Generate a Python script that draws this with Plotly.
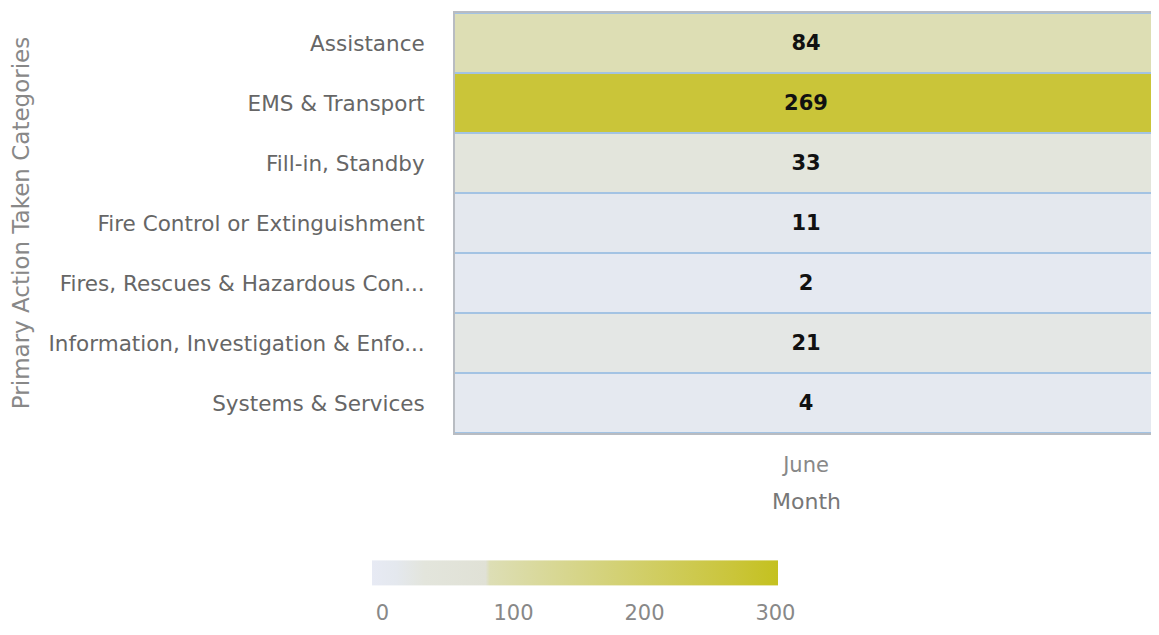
import plotly.graph_objects as go

# dados
categorias = [
    "Assistance",
    "EMS & Transport",
    "Fill-in, Standby",
    "Fire Control or Extinguishment",
    "Fires, Rescues & Hazardous Con...",
    "Information, Investigation & Enfo...",
    "Systems & Services",
]
meses = ["June"]
valores = [84, 269, 33, 11, 2, 21, 4]
ticks_cor = [0, 100, 200, 300]

# escala de cores (min -8, max 302)
escala = [
    [0.0, "#e7eaf4"],
    [0.06, "#e4e8ee"],
    [0.13, "#e3e5dc"],
    [0.28, "#e0e1d6"],
    [0.29, "#dddeb5"],
    [0.89, "#cac53a"],
    [1.0, "#c4c11f"],
]

fig = go.Figure(
    go.Heatmap(
        x=meses,
        y=categorias,
        z=[[v] for v in valores],
        zmin=-8,
        zmax=302,
        colorscale=escala,
        ygap=2,
        texttemplate="%{z}",
        textfont=dict(family="DejaVu Sans", size=21, color="#111111", weight="bold"),
        hoverinfo="skip",
        colorbar=dict(
            orientation="h",
            xref="paper",
            x=0.171,
            xanchor="center",
            y=-0.381,
            yanchor="middle",
            ypad=0,
            lenmode="pixels",
            len=426,
            thickness=25,
            outlinewidth=0,
            tickvals=ticks_cor,
            tickfont=dict(family="DejaVu Sans", size=21, color="#888888"),
            ticks="outside",
            ticklen=10,
            tickcolor="rgba(0,0,0,0)",
        ),
    )
)

# a pagina tem 8px de margem no body
fig.update_layout(
    width=1151,
    height=627,
    margin=dict(l=447, r=2, t=5, b=202),
    paper_bgcolor="white",
    plot_bgcolor="#a3c3e3",
    font=dict(family="DejaVu Sans", color="#666666"),
    xaxis=dict(
        showgrid=False,
        zeroline=False,
        showline=True,
        mirror=True,
        linecolor="#b8bcc2",
        linewidth=2,
        ticks="",
        ticklabelstandoff=12,
        tickfont=dict(size=21, color="#888888"),
    ),
    yaxis=dict(
        autorange="reversed",
        showgrid=False,
        zeroline=False,
        showline=True,
        mirror=True,
        linecolor="#b8bcc2",
        linewidth=2,
        ticks="",
        ticklabelstandoff=24,
        tickfont=dict(size=21.5, color="#666666"),
        automargin=False,
    ),
    annotations=[
        dict(
            text="Primary Action Taken Categories",
            xref="paper", yref="paper",
            x=-0.618, y=0.5,
            xanchor="center", yanchor="middle",
            textangle=-90,
            showarrow=False,
            font=dict(size=23, color="#888888"),
        ),
        dict(
            text="Month",
            xref="paper", yref="paper",
            x=0.5, y=-0.164,
            xanchor="center", yanchor="middle",
            showarrow=False,
            font=dict(size=22, color="#777777"),
        ),
    ],
)

fig.write_html("out.html")
